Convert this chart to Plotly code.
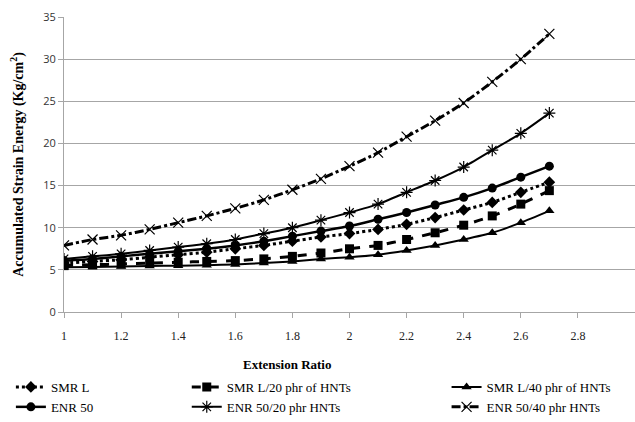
import plotly.graph_objects as go

x = [1.0, 1.1, 1.2, 1.3, 1.4, 1.5, 1.6, 1.7, 1.8, 1.9, 2.0, 2.1, 2.2, 2.3, 2.4, 2.5, 2.6, 2.7]

smr_l = [5.8, 6.0, 6.2, 6.5, 6.8, 7.1, 7.5, 7.9, 8.4, 8.9, 9.3, 9.8, 10.4, 11.2, 12.1, 13.0, 14.2, 15.4]
smr_l_20 = [5.5, 5.6, 5.7, 5.8, 5.9, 6.0, 6.1, 6.3, 6.6, 7.0, 7.5, 7.9, 8.6, 9.4, 10.3, 11.4, 12.8, 14.4]
smr_l_40 = [5.3, 5.35, 5.4, 5.45, 5.5, 5.55, 5.65, 5.8, 6.0, 6.3, 6.5, 6.8, 7.3, 7.9, 8.6, 9.4, 10.6, 12.0]
enr_50 = [6.1, 6.3, 6.6, 6.9, 7.2, 7.5, 7.9, 8.4, 9.0, 9.6, 10.2, 11.0, 11.8, 12.7, 13.6, 14.7, 16.0, 17.3]
enr_50_20 = [6.3, 6.6, 6.9, 7.3, 7.7, 8.1, 8.6, 9.3, 10.0, 10.9, 11.8, 12.8, 14.2, 15.6, 17.2, 19.2, 21.2, 23.6]
enr_50_40 = [7.9, 8.6, 9.1, 9.8, 10.6, 11.4, 12.3, 13.3, 14.5, 15.8, 17.3, 18.9, 20.8, 22.7, 24.8, 27.3, 30.0, 33.0]

names = ["SMR L", "SMR L/20 phr of HNTs", "SMR L/40 phr of HNTs",
         "ENR 50", "ENR 50/20 phr HNTs", "ENR 50/40 phr HNTs"]

x_ticks = [1, 1.2, 1.4, 1.6, 1.8, 2, 2.2, 2.4, 2.6, 2.8, 3]
y_ticks = [0, 5, 10, 15, 20, 25, 30, 35]

SERIF = "Liberation Serif, Times New Roman, serif"

fig = go.Figure()

def add(y, name, dash, width, symbol, size, legend, mlw=0):
    fig.add_trace(go.Scatter(
        x=x, y=y, name=name, mode="lines+markers",
        line=dict(color="black", width=width, dash=dash, shape="spline", smoothing=0.6),
        marker=dict(symbol=symbol, size=size, color="black",
                    line=dict(color="black", width=mlw)),
        legend=legend,
    ))

add(smr_l, names[0], "dot", 3, "diamond", 9, "legend")
add(smr_l_20, names[1], "dash", 3, "square", 9, "legend2")
add(smr_l_40, names[2], "solid", 2, "triangle-up", 9, "legend3")
add(enr_50, names[3], "solid", 2.5, "circle", 9, "legend")
add(enr_50_20, names[4], "solid", 2, "asterisk-open", 10, "legend2", 1.2)
add(enr_50_40, names[5], "dashdot", 3, "x-thin-open", 10, "legend3", 1.2)

leg_common = dict(
    orientation="v", yanchor="top", y=-0.205, xanchor="left",
    font=dict(family=SERIF, size=13, color="black"),
    bgcolor="rgba(0,0,0,0)", tracegroupgap=0,
    traceorder="normal",
)

fig.update_layout(
    width=635, height=422,
    margin=dict(l=64, r=0, t=17, b=109),
    plot_bgcolor="white", paper_bgcolor="white",
    showlegend=True,
    legend=dict(x=-0.093, **leg_common),
    legend2=dict(x=0.215, **leg_common),
    legend3=dict(x=0.67, **leg_common),
    xaxis=dict(
        range=[1, 3], tickvals=x_ticks, ticktext=[str(v) for v in x_ticks],
        showgrid=False, zeroline=False,
        showline=True, linecolor="#a6a6a6", linewidth=1,
        ticks="outside", ticklen=5, tickcolor="#a6a6a6",
        tickfont=dict(family=SERIF, size=12, color="#222"),
        ticklabelstandoff=8,
    ),
    yaxis=dict(
        range=[0, 35], tickvals=y_ticks,
        showgrid=True, gridcolor="#a6a6a6", gridwidth=1,
        zeroline=False, showline=True, linecolor="#a6a6a6", linewidth=1,
        ticks="outside", ticklen=5, tickcolor="#a6a6a6",
        tickfont=dict(family="Open Sans", size=11, color="#333"),
        title=dict(text="<b>Accumulated Strain Energy (Kg/cm<sup>2</sup>)</b>",
                   font=dict(family=SERIF, size=14, color="black"),
                   standoff=16),
    ),
)
pw, ph = 635 - 64, 422 - 17 - 109
fig.add_annotation(
    text="<b>Extension Ratio</b>", x=(287 - 64) / pw, y=(313 - 366) / ph,
    xref="paper", yref="paper", yanchor="middle",
    showarrow=False, font=dict(family=SERIF, size=13, color="black"),
)

fig.write_html("out.html")
